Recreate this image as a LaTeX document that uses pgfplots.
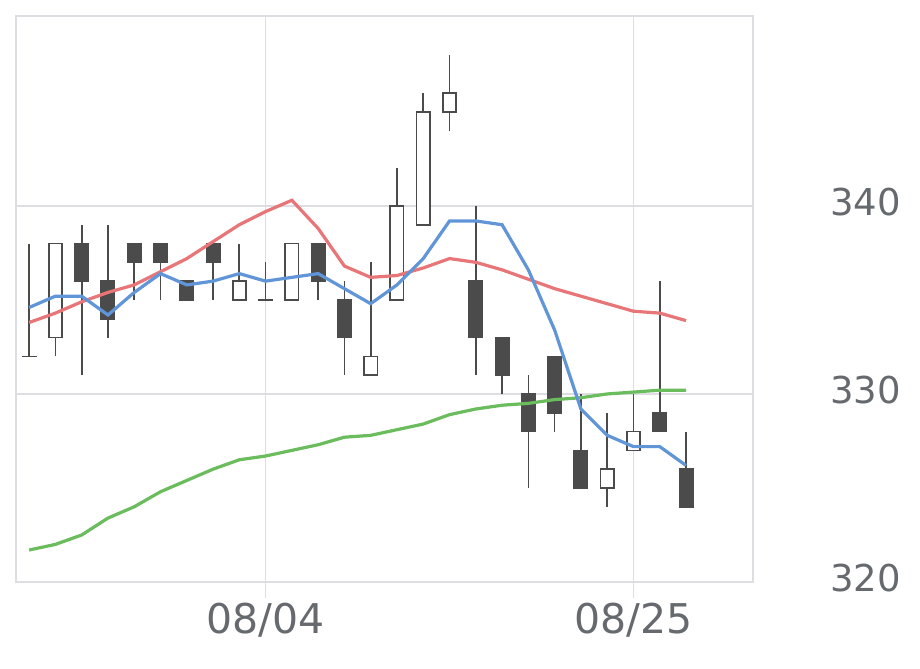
\documentclass[border=0pt]{standalone}
\usepackage{fontspec}
\setmainfont{DejaVu Sans}
\usepackage{pgfplots}
\usepackage{pgfplotstable}
\pgfplotsset{compat=1.18}

\definecolor{gridgray}{RGB}{222,222,226}
\definecolor{labelgray}{RGB}{102,106,110}
\definecolor{candlegray}{RGB}{75,75,75}
\definecolor{ma5}{RGB}{96,149,216}
\definecolor{ma25}{RGB}{232,118,120}
\definecolor{ma75}{RGB}{106,188,92}

% daily prices
\pgfplotstableread{
i   open  high  low   close
0   332   338   332   332
1   333   338   332   338
2   338   339   331   336
3   336   339   333   334
4   338   338   335   337
5   338   338   335   337
6   336   336   335   335
7   338   338   335   337
8   335   338   335   336
9   335   337   335   335
10  335   338   335   338
11  338   338   335   336
12  335   336   331   333
13  331   337   331   332
14  335   342   335   340
15  339   346   339   345
16  345   348   344   346
17  336   340   331   333
18  333   333   330   331
19  330   331   325   328
20  332   332   328   329
21  327   330   325   325
22  325   329   324   326
23  327   330   327   328
24  329   336   328   328
25  326   328   324   324
}\candles

% rising days (hollow bodies)
\pgfplotstableread{
i   open  close
1   333   338
8   335   336
10  335   338
13  331   332
14  335   340
15  339   345
16  345   346
22  325   326
23  327   328
}\upbodies

% moving averages (5, 25, 75 days)
\pgfplotstableread{
i   ma5    ma25   ma75
0   334.6  333.8  321.7
1   335.2  334.3  322.0
2   335.2  334.9  322.5
3   334.2  335.4  323.4
4   335.4  335.8  324.0
5   336.4  336.5  324.8
6   335.8  337.2  325.4
7   336.0  338.1  326.0
8   336.4  339.0  326.5
9   336.0  339.7  326.7
10  336.2  340.3  327.0
11  336.4  338.8  327.3
12  335.6  336.8  327.7
13  334.8  336.2  327.8
14  335.8  336.3  328.1
15  337.2  336.7  328.4
16  339.2  337.2  328.9
17  339.2  337.0  329.2
18  339.0  336.6  329.4
19  336.6  336.1  329.5
20  333.4  335.6  329.7
21  329.2  335.2  329.8
22  327.8  334.8  330.0
23  327.2  334.4  330.1
24  327.2  334.3  330.2
25  326.2  333.9  330.2
}\mavg

\begin{document}
\begin{tikzpicture}
\begin{axis}[
    scale only axis,
    width=737bp, height=566bp,
    xmin=-0.5, xmax=27.55,
    ymin=320, ymax=350.1,
    axis line style={draw=gridgray, line width=1.2bp},
    grid style={draw=gridgray, line width=1.2bp},
    xmajorgrids, ymajorgrids,
    xtick={9,23}, xticklabels={08/04,08/25},
    ytick={320,330,340},
    yticklabel pos=right,
    tick align=outside,
    major tick length=16bp,
    xtick style={draw=gridgray, line width=1.2bp},
    ytick style={draw=none},
    xtick pos=bottom, ytick pos=right,
    /pgf/number format/assume math mode=true,
    xticklabel style={font=\fontsize{41bp}{44bp}\selectfont, text=labelgray, anchor=north, inner sep=0pt, yshift=-5bp},
    yticklabel style={font=\fontsize{37bp}{40bp}\selectfont, text=labelgray, anchor=east, inner sep=0pt, xshift=132bp, yshift=4bp},
    wick/.style={draw=none, mark=none, forget plot,
      error bars/.cd, y dir=plus, y explicit, error mark=none,
      error bar style={draw=candlegray, line width=1.7bp}},
]
% wicks: low to high
\addplot[wick] table[x=i, y=low, y error expr=\thisrow{high}-\thisrow{low}] {\candles};
% bodies: outline colour, open to close (0.045 = half the border)
\addplot[draw=none, mark=none, error bars/.cd, y dir=plus, y explicit, error mark=none,
    error bar style={draw=candlegray, line width=15bp}]
  table[x=i, y expr={min(\thisrow{open},\thisrow{close})-0.045},
        y error expr={abs(\thisrow{close}-\thisrow{open})+0.09}] {\candles};
% hollow inside of rising bodies
\addplot[draw=none, mark=none, error bars/.cd, y dir=plus, y explicit, error mark=none,
    error bar style={draw=white, line width=11.6bp}]
  table[x=i, y expr={\thisrow{open}+0.045},
        y error expr={\thisrow{close}-\thisrow{open}-0.09}] {\upbodies};
\addplot[ma75, line width=3.2bp, mark=none] table[x=i, y=ma75] {\mavg};
\addplot[ma25, line width=3.2bp, mark=none] table[x=i, y=ma25] {\mavg};
\addplot[ma5, line width=3.2bp, mark=none] table[x=i, y=ma5] {\mavg};
\end{axis}
\pgfresetboundingbox
\path[use as bounding box] ([xshift=-16bp,yshift=-87bp]current axis.south west) rectangle ([xshift=167bp,yshift=16bp]current axis.north east);
\end{tikzpicture}
\end{document}
